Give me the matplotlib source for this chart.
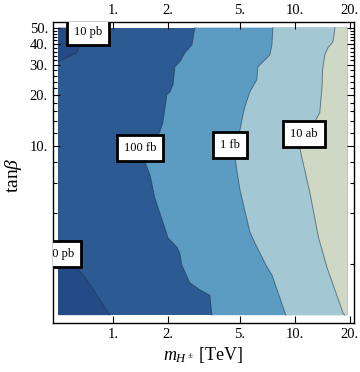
import matplotlib
matplotlib.use('Agg')
from matplotlib import pyplot as plt
from matplotlib.ticker import FixedLocator, FixedFormatter, NullFormatter

# bords des contours (m en TeV, tanb)
m_A = [0.5, 0.634, 0.659, 0.676]
tb_A = [31.4, 35.5, 39.6, 50]
m_A2 = [0.5, 0.58, 0.642, 0.702, 0.963]
tb_A2 = [1.98, 1.98, 1.87, 1.68, 1.0]
m_B = [2.82, 2.72, 2.49, 2.33, 2.19, 2.14, 2.06, 1.98, 1.88, 1.81, 1.50, 1.60, 1.70, 1.93, 2.01, 2.25, 2.33, 2.39, 2.65, 3.01, 3.41, 3.50]
tb_B = [50, 39.6, 35.5, 31.4, 29.3, 23.0, 20.9, 20.0, 13.7, 12.1, 8.04, 6.73, 4.92, 3.27, 2.86, 2.52, 2.33, 1.98, 1.55, 1.41, 1.31, 1.0]
m_C = [7.57, 7.48, 7.29, 6.67, 6.26, 6.18, 5.66, 5.31, 5.18, 4.99, 4.68, 4.99, 5.66, 6.03, 6.93, 7.48, 8.92]
tb_C = [50, 39.6, 34.5, 31.4, 29.3, 24.6, 20.9, 17.0, 15.2, 12.4, 8.61, 5.50, 3.10, 2.67, 1.98, 1.73, 1.0]
m_D = [16.6, 16.2, 15.2, 14.6, 14.2, 14.1, 13.7, 13.2, 10.6, 12.1, 13.5, 15.0, 18.4, 18.8]
tb_D = [50, 41.2, 38.0, 34.5, 28.2, 22.3, 15.7, 14.6, 9.86, 5.27, 2.86, 1.92, 1.03, 1.0]

m_range = [0.5, 19.5]
tb_range = [1.0, 50.0]

labels = ['10 pb', '100 fb', '1 fb', '10 ab', '10 pb']
lab_m = [0.729, 1.41, 4.40, 11.2, 0.511]
lab_tb = [47.3, 9.73, 10.1, 11.8, 2.30]

xticks = [1, 2, 5, 10, 20]
xticklabels = ['1.', '2.', '5.', '10.', '20.']
yticks = [10, 20, 30, 40, 50]
yticklabels = ['10.', '20.', '30.', '40.', '50.']
yminor = [2, 4, 6, 8, 12, 14, 16, 18] + list(range(22, 50, 2))

col_navy = '#244b86'
col_dark = '#2c5a93'
col_mid = '#5c9cc2'
col_light = '#a3c8d3'
col_green = '#cfd8c5'
col_line = '#1e3148'

plt.rcParams['font.family'] = ['Liberation Serif', 'DejaVu Serif']
plt.rcParams['mathtext.fontset'] = 'custom'
plt.rcParams['mathtext.rm'] = 'Liberation Serif'
plt.rcParams['mathtext.it'] = 'Liberation Serif:italic'
fig = plt.figure(figsize=(3.6, 3.72), dpi=100)
ax = fig.add_axes([0.147, 0.132, 0.836, 0.809])
ax.set_xscale('log')
ax.set_yscale('log')

x0, x1 = m_range
y0, y1 = tb_range
ax.fill([x0, x1, x1, x0], [y0, y0, y1, y1], color=col_dark, lw=0)
ax.fill(m_A + [x0], tb_A + [y1], color=col_navy, lw=0)
ax.fill(m_A2 + [x0], tb_A2 + [y0], color=col_navy, lw=0)
ax.fill(m_B + [x1, x1], tb_B + [y0, y1], color=col_mid, lw=0)
ax.fill(m_C + [x1, x1], tb_C + [y0, y1], color=col_light, lw=0)
ax.fill(m_D + [x1, x1], tb_D + [y0, y1], color=col_green, lw=0)
for mm, tt in [(m_A, tb_A), (m_A2, tb_A2), (m_B, tb_B), (m_C, tb_C), (m_D, tb_D)]:
    ax.plot(mm, tt, color=col_line, lw=0.7, alpha=0.55)

for lab, mm, tt in zip(labels, lab_m, lab_tb):
    ax.text(mm, tt, lab, fontsize=9, ha='center', va='center', clip_on=True,
            bbox=dict(boxstyle='square,pad=0.55', fc='white', ec='black', lw=2))

ax.set_xlim(0.468, 21.1)
ax.set_ylim(0.9, 54)
ax.xaxis.set_major_locator(FixedLocator(xticks))
ax.xaxis.set_major_formatter(FixedFormatter(xticklabels))
ax.xaxis.set_minor_locator(FixedLocator([]))
ax.yaxis.set_major_locator(FixedLocator(yticks))
ax.yaxis.set_major_formatter(FixedFormatter(yticklabels))
ax.yaxis.set_minor_locator(FixedLocator(yminor))
ax.yaxis.set_minor_formatter(NullFormatter())
ax.tick_params(which='both', direction='in', top=True, right=True, labeltop=True,
               labelsize=10.5, width=0.8)
ax.tick_params(which='major', length=5)
ax.tick_params(which='minor', length=3)
for s in ax.spines.values():
    s.set_linewidth(1.0)

ax.set_xlabel(r'$m_{H^\pm}$ [TeV]', fontsize=13, labelpad=3)
ax.set_ylabel(r'tan$\beta$', fontsize=14)
ax.yaxis.set_label_coords(-0.095, 0.49)

fig.savefig('out.png', dpi=100)
